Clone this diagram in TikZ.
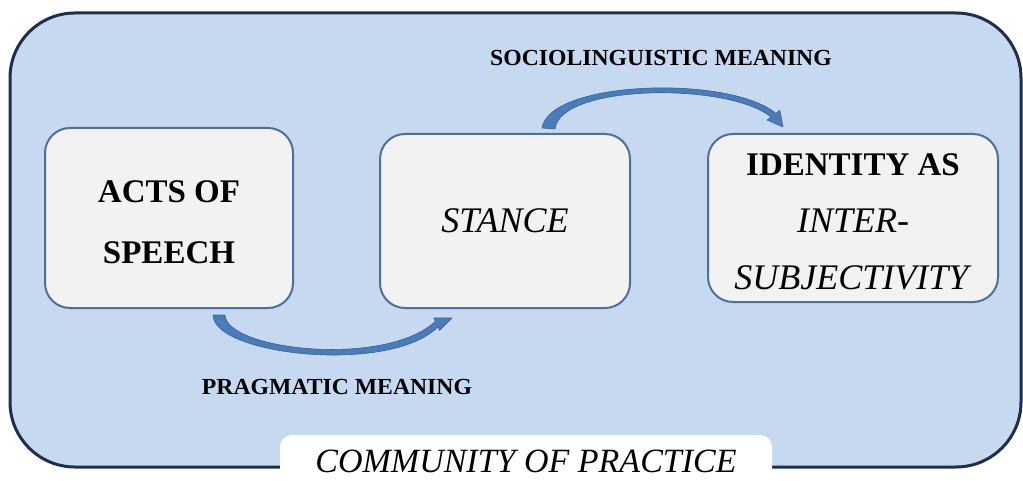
\documentclass[tikz,border=0pt]{standalone}
\usepackage{fontspec}
\usepackage{graphicx}
\setmainfont{Liberation Serif}
\usetikzlibrary{positioning}

\definecolor{copfill}{RGB}{198,217,241}
\definecolor{copline}{RGB}{30,46,76}
\definecolor{boxline}{RGB}{79,111,156}
\definecolor{boxfill}{RGB}{242,242,242}
\definecolor{arrowfill}{RGB}{74,124,186}
\definecolor{arrowline}{RGB}{58,96,148}

\begin{document}
\begin{tikzpicture}[x=1pt,y=-1pt,node distance=336pt,on grid,
	box/.style={draw=boxline,fill=boxfill,line width=2pt,rounded corners=25pt,align=center,
		minimum width=248pt,minimum height=180pt,font=\fontsize{33}{61}\selectfont\bfseries},
	meaning/.style={font=\fontsize{23}{27}\selectfont\bfseries},
	bend arrow/.style={fill=arrowfill,draw=arrowline,line width=0.6pt,line join=round}]
\useasboundingbox (0,0) rectangle (1023,481);

% community of practice frame
\draw[copline,fill=copfill,line width=3pt,rounded corners=65pt] (10,13) rectangle (1021,467);
\fill[white,rounded corners=12pt] (280,435) rectangle (772,500);
\node[font=\fontsize{34}{40}\selectfont\itshape] (cop) at (526,461) {COMMUNITY OF PRACTICE};

% boxes
\node[box] 				(acts) at (169,218) 		{\rule{0pt}{31pt}ACTS OF\\SPEECH};
\node[box,minimum width=250pt,minimum height=174pt,font=\fontsize{36}{40}\selectfont\itshape]
						(stance) [right=of acts,yshift=-3pt] 	{STANCE};
\node[box,minimum width=290pt,minimum height=168pt,font=\fontsize{36}{57}\selectfont]
						(identity) [right=348pt of stance,yshift=3pt]
						{\rule{0pt}{29pt}\fontsize{33}{57}\selectfont\textbf{IDENTITY AS}\\\textit{INTER-}\\\textit{SUBJECTIVITY}};

% arrows
\coordinate (prag tail) at ([shift={(44,6)}]acts.south);
\coordinate (prag tip) at ([shift={(-53,9)}]stance.south);
\coordinate (socio tail) at ([shift={(37,-5)}]stance.north);
\coordinate (socio tip) at ([shift={(-70,-6)}]identity.north);

\filldraw[bend arrow] (prag tail) -- ++(12,0)
	.. controls (226,350) and (385,368) .. (435.4,321.4) -- (433.8,317.8) -- (prag tip)
	-- (439.6,330.4) -- (438,326.8) .. controls (390,375) and (213,355) .. cycle;
\filldraw[bend arrow] (socio tail)
	.. controls (550,80) and (730,75) .. (775.8,113.4) -- (779.8,110.4) -- (socio tip)
	-- (767,120) -- (771,117) .. controls (728,82) and (560,84) .. (555,129) -- cycle;

% labels
\node[meaning] (socio) at (661,58) {\scalebox{1.03}[1]{SOCIOLINGUISTIC MEANING}};
\node[meaning] (prag) at (337,387) {\scalebox{1.03}[1]{PRAGMATIC MEANING}};
\end{tikzpicture}
\end{document}
